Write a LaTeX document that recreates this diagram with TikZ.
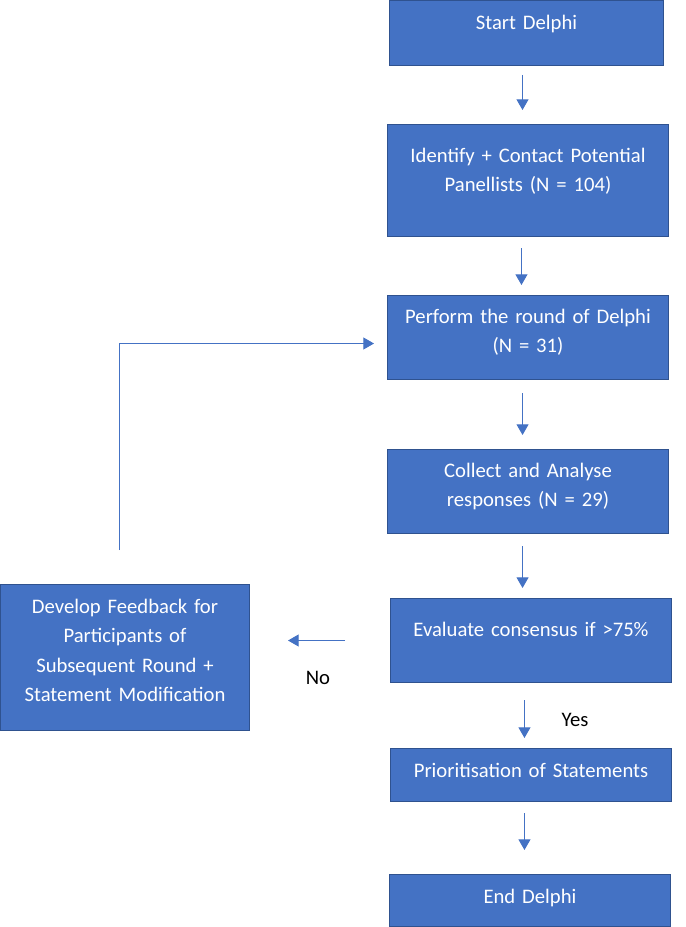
\documentclass[tikz,border=0pt]{standalone}
\usepackage{fontspec}
\setmainfont{Carlito}
\usetikzlibrary{arrows.meta}

\tikzset{every picture/.style={line width=0.75pt}}

\begin{document}
\begin{tikzpicture}[x=0.75pt,y=0.75pt,yscale=-1,xscale=1,
	flowbox/.style={draw={rgb, 255:red, 47; green, 82; blue, 143 }, fill={rgb, 255:red, 68; green, 114; blue, 196 }, text=white, inner sep=0pt, align=center, anchor=north west, font=\fontsize{15.5}{22}\selectfont},
	flowarrow/.style={draw={rgb, 255:red, 68; green, 114; blue, 196 }, -{Triangle[width=9pt,length=8pt]}},
	flowlabel/.style={anchor=base, inner sep=0.75pt, font=\fontsize{15.5}{22}\selectfont}]
			\useasboundingbox (0,0) rectangle (685,927);

			%Shape: Rectangle [id:start]
			\node [flowbox, text width=205.5pt, text height=21.75pt, text depth=27pt] (start) at (389,0) {Start Delphi};
			%Shape: Rectangle [id:identify]
			\node [flowbox, text width=210.75pt, text height=28.5pt, text depth=55.5pt] (identify) at (387,124) {Identify + Contact Potential\\Panellists (N = 104)};
			%Shape: Rectangle [id:perform]
			\node [flowbox, text width=210.75pt, text height=21pt, text depth=42pt] (perform) at (387,295) {Perform the round of Delphi\\(N = 31)};
			%Shape: Rectangle [id:collect]
			\node [flowbox, text width=210.75pt, text height=21pt, text depth=42pt] (collect) at (387,449) {Collect and Analyse\\responses (N = 29)};
			%Shape: Rectangle [id:evaluate]
			\node [flowbox, text width=210.75pt, text height=28.5pt, text depth=34.5pt] (evaluate) at (390,598) {Evaluate consensus if >75\%};
			%Shape: Rectangle [id:feedback]
			\node [flowbox, text width=186.75pt, text height=21.75pt, text depth=87.75pt] (feedback) at (0,584) {Develop Feedback for\\Participants of\\Subsequent Round +\\Statement Modification};
			%Shape: Rectangle [id:prioritise]
			\node [flowbox, text width=210.75pt, text height=21.75pt, text depth=18pt] (prioritise) at (390,748) {Prioritisation of Statements};
			%Shape: Rectangle [id:stop]
			\node [flowbox, text width=210.75pt, text height=21.75pt, text depth=17.25pt] (stop) at (389,874) {End Delphi};

			%Straight Lines [id:arrows]
			\draw [flowarrow, shorten <=6.75pt, shorten >=10.5pt] ([xshift=-3pt]start.south) -- ([xshift=-3pt]start.south |- identify.north);
			\draw [flowarrow, shorten <=8.25pt, shorten >=7.5pt] ([xshift=-4.9pt]identify.south) -- ([xshift=-4.9pt]identify.south |- perform.north);
			\draw [flowarrow, shorten <=9.75pt, shorten >=10.5pt] ([xshift=-4.1pt]perform.south) -- ([xshift=-4.1pt]perform.south |- collect.north);
			\draw [flowarrow, shorten <=9pt, shorten >=7.5pt] ([xshift=-4.1pt]collect.south) -- ([xshift=-4.1pt]collect.south |- evaluate.north);
			\draw [flowarrow, shorten <=12.75pt, shorten >=7.5pt] ([xshift=-4.9pt]evaluate.south) -- ([xshift=-4.9pt]evaluate.south |- prioritise.north);
			\draw [flowarrow, shorten <=8.25pt, shorten >=18pt] ([xshift=-4.9pt]prioritise.south) -- ([xshift=-4.9pt]prioritise.south |- stop.north);
			\draw [flowarrow, shorten <=33.75pt, shorten >=28.5pt] (evaluate.west) -- (evaluate.west -| feedback.east);
			%Connector: loop back
			\draw [flowarrow, shorten <=25.5pt, shorten >=9.75pt] ([xshift=-4.1pt]feedback.north) |- ([yshift=4.5pt]perform.west);

			% Text Node
			\node [flowlabel] (no) at (318,684) {No};
			% Text Node
			\node [flowlabel] (yes) at (575,726) {Yes};

\end{tikzpicture}
\end{document}
